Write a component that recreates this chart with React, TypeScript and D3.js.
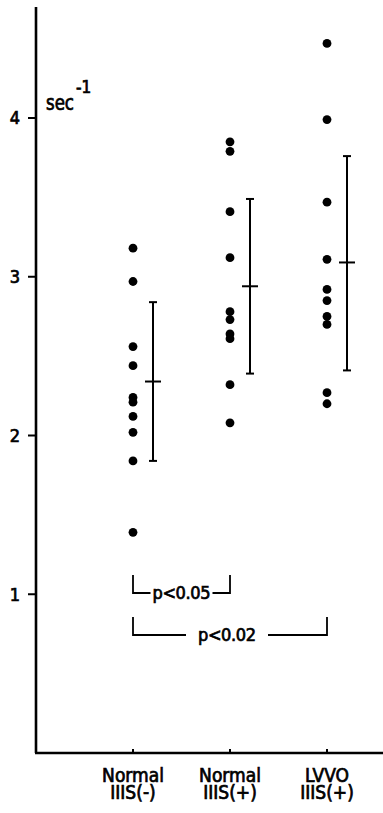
import React from "react";
import * as d3 from "d3";

const categories = ["Normal|IIIS(-)", "Normal|IIIS(+)", "LVVO|IIIS(+)"];

const normalNeg = [3.18, 2.97, 2.56, 2.44, 2.24, 2.21, 2.12, 2.02, 1.84, 1.39];
const normalPos = [3.85, 3.79, 3.41, 3.12, 2.78, 2.73, 2.64, 2.61, 2.32, 2.08];
const lvvoPos = [4.47, 3.99, 3.47, 3.11, 2.92, 2.85, 2.75, 2.7, 2.27, 2.2];

// mean, mean-SD, mean+SD
const means = [2.34, 2.94, 3.09];
const sdLow = [1.84, 2.39, 2.41];
const sdHigh = [2.84, 3.49, 3.76];

const yTicks = [1, 2, 3, 4];

const comparisons = [
  { from: 0, to: 1, label: "p<0.05" },
  { from: 0, to: 2, label: "p<0.02" },
];

const W = 383;
const H = 813;
const font = "'DejaVu Sans Condensed', 'DejaVu Sans', sans-serif";

export default function App() {
  const groups = [normalNeg, normalPos, lvvoPos];

  const x = d3.scalePoint<string>().domain(categories).range([133, 327]);
  const y = d3.scaleLinear().domain([0, 4]).range([753, 118]);
  const axisX = 36;
  const barOffset = 20;
  const ink = { fill: "#000", stroke: "#000", strokeWidth: 0.7 };

  return (
    <svg
      width={W}
      height={H}
      viewBox={`0 0 ${W} ${H}`}
      style={{ position: "absolute", left: 0, top: 0, background: "#fff" }}
      fontFamily={font}
    >
      <rect width={W} height={H} fill="#fff" />
      {/* y axis */}
      <line x1={axisX} x2={axisX} y1={7} y2={y(0)} stroke="#000" strokeWidth={2.6} />
      {yTicks.map((t) => (
        <g key={t}>
          <line x1={axisX - 8} x2={axisX} y1={y(t)} y2={y(t)} stroke="#000" strokeWidth={2} />
          <text x={20} y={y(t)} dy="0.36em" textAnchor="end" fontSize={18} {...ink}>
            {t}
          </text>
        </g>
      ))}
      <text x={46} y={110} fontSize={21} textLength={28} lengthAdjust="spacingAndGlyphs" {...ink}>
        sec
      </text>
      <text x={76} y={93} fontSize={17} {...ink}>
        -1
      </text>

      {/* x axis */}
      <line x1={axisX - 1} x2={W} y1={y(0)} y2={y(0)} stroke="#000" strokeWidth={2.6} />
      {categories.map((c) => {
        const [l1, l2] = c.split("|");
        const cx = x(c) as number;
        return (
          <g key={c}>
            <line x1={cx} x2={cx} y1={y(0) - 4} y2={y(0)} stroke="#000" strokeWidth={2} />
            <text textAnchor="middle" fontSize={19} {...ink}>
              <tspan x={cx} y={782}>{l1}</tspan>
              <tspan x={cx} y={799}>{l2}</tspan>
            </text>
          </g>
        );
      })}

      {/* points */}
      {groups.map((g, i) =>
        g.map((v, j) => (
          <circle key={`${i}-${j}`} cx={x(categories[i]) as number} cy={y(v)} r={4.4} fill="#000" />
        ))
      )}

      {/* mean ± SD */}
      {means.map((m, i) => {
        const bx = (x(categories[i]) as number) + barOffset;
        return (
          <g key={i} stroke="#000" strokeWidth={2}>
            <line x1={bx} x2={bx} y1={y(sdHigh[i])} y2={y(sdLow[i])} />
            <line x1={bx - 4} x2={bx + 4} y1={y(sdHigh[i])} y2={y(sdHigh[i])} />
            <line x1={bx - 4} x2={bx + 4} y1={y(sdLow[i])} y2={y(sdLow[i])} />
            <line x1={bx - 8} x2={bx + 8} y1={y(m)} y2={y(m)} />
          </g>
        );
      })}

      {/* significance brackets */}
      {comparisons.map((c, i) => {
        const x1 = x(categories[c.from]) as number;
        const x2 = x(categories[c.to]) as number;
        const by = 593 + i * 42;
        const mid = (x1 + x2) / 2 - (i === 0 ? 0 : 3);
        const half = 29;
        const gap = i === 0 ? 2 : 12;
        return (
          <g key={c.label}>
            <path
              d={`M${x1},${by - 18}V${by}H${mid - half - gap}`}
              fill="none"
              stroke="#000"
              strokeWidth={1.8}
            />
            <path
              d={`M${x2},${by - 18}V${by}H${mid + half + gap}`}
              fill="none"
              stroke="#000"
              strokeWidth={1.8}
            />
            <text
              x={mid - half}
              y={by + 6}
              fontSize={18}
              textLength={half * 2}
              lengthAdjust="spacing"
              {...ink}
            >
              {c.label}
            </text>
          </g>
        );
      })}
    </svg>
  );
}
